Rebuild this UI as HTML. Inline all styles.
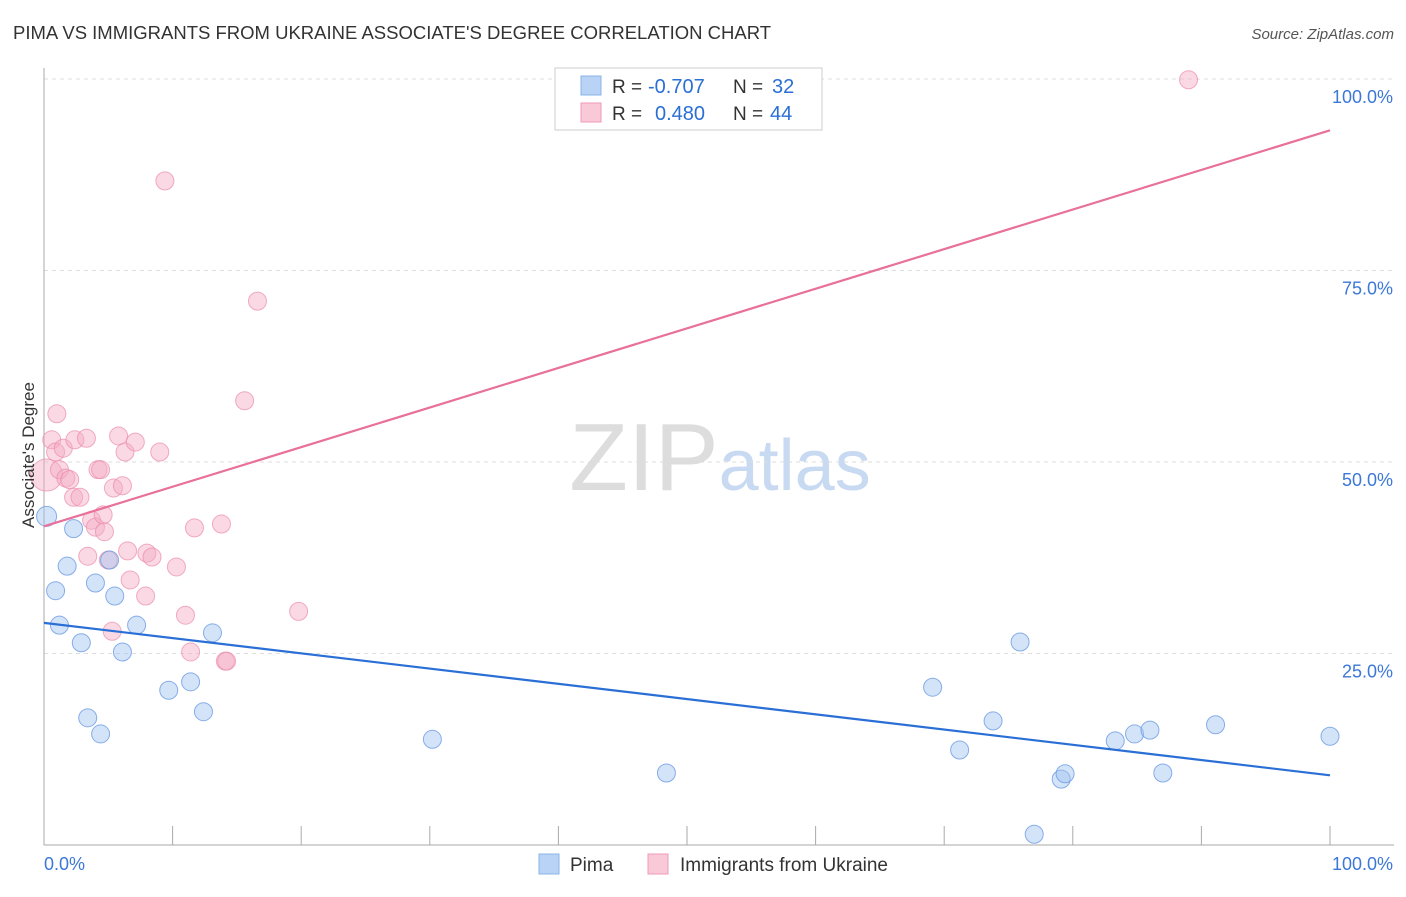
<!DOCTYPE html>
<html><head><meta charset="utf-8">
<style>
body{margin:0;background:#fff;font-family:"Liberation Sans",sans-serif;}
svg text{font-family:"Liberation Sans",sans-serif;}
</style></head>
<body>
<svg id="chart" width="1406" height="892" xmlns="http://www.w3.org/2000/svg">
<text x="13" y="39" font-size="18.5" fill="#333">PIMA VS IMMIGRANTS FROM UKRAINE ASSOCIATE'S DEGREE CORRELATION CHART</text>
<text x="1394" y="39" font-size="15" fill="#555" text-anchor="end" font-style="italic">Source: ZipAtlas.com</text>
<text x="720" y="490" font-size="96" text-anchor="middle" fill="#ddd" font-family="Liberation Serif">ZIP<tspan fill="#c8d9f2" font-family="Liberation Sans" font-size="72">atlas</tspan></text>
<g id="grid"></g>
<g id="axes"></g>
<g id="points"></g>
<g id="lines"></g>
<text transform="translate(34,455) rotate(-90)" font-size="17" fill="#333" text-anchor="middle">Associate's Degree</text>
<g>
<rect x="555" y="68" width="267" height="62" fill="#fff" stroke="#ccc"/>
<rect x="581" y="76" width="20" height="19" fill="#b8d3f5" stroke="#8ab4e8"/>
<rect x="581" y="103" width="20" height="19" fill="#f9c9d8" stroke="#f09ab5"/>
<text x="612" y="93" font-size="19" fill="#333">R =</text>
<text x="648" y="93" font-size="20" fill="#2a6fd6">-0.707</text>
<text x="733" y="93" font-size="19" fill="#333">N =</text>
<text x="772" y="93" font-size="20" fill="#2a6fd6">32</text>
<text x="612" y="120" font-size="19" fill="#333">R =</text>
<text x="655" y="120" font-size="20" fill="#2a6fd6">0.480</text>
<text x="733" y="120" font-size="19" fill="#333">N =</text>
<text x="770" y="120" font-size="20" fill="#2a6fd6">44</text>
</g>
<g>
<rect x="539" y="854" width="20" height="20" fill="#b8d3f5" stroke="#8ab4e8"/>
<text x="570" y="871" font-size="19" fill="#333">Pima</text>
<rect x="648" y="854" width="20" height="20" fill="#f9c9d8" stroke="#f09ab5"/>
<text x="680" y="871" font-size="19" fill="#333">Immigrants from Ukraine</text>
</g>
</svg>
<script>
const pimaX=[0.2,0.9,1.2,1.8,2.3,2.9,3.4,4.0,4.4,5.1,5.5,6.1,7.2,9.7,11.4,12.4,13.1,30.2,48.4,69.1,71.2,73.8,75.9,77.0,79.1,79.4,83.3,84.8,86.0,87.0,91.1,100];
const pimaY=[42.9,33.2,28.7,36.4,41.3,26.4,16.6,34.2,14.5,37.2,32.5,25.2,28.7,20.2,21.3,17.4,27.7,13.8,9.4,20.6,12.4,16.2,26.5,1.4,8.6,9.3,13.6,14.5,15.0,9.4,15.7,14.2];
const ukrX=[0.2,0.6,1.0,0.9,1.5,1.2,1.7,2.0,2.3,2.4,2.8,3.3,3.4,3.7,4.0,4.2,4.6,4.7,5.3,5.4,5.8,6.1,6.3,6.5,6.7,7.1,7.9,8.0,8.4,9.0,9.4,10.3,11.0,11.4,11.7,13.8,14.1,14.2,15.6,16.6,19.8,89.0,5.0,4.4];
const ukrY=[48.3,52.9,56.3,51.3,51.8,49.0,47.9,47.7,45.4,52.9,45.4,53.1,37.7,42.4,41.5,49.0,43.1,40.9,27.9,46.6,53.4,46.9,51.3,38.4,34.6,52.6,32.5,38.1,37.6,51.3,86.7,36.3,30.0,25.2,41.4,41.9,24.0,24.0,58.0,71.0,30.5,99.9,37.2,49.0];
const pimaTrend=[29.0,9.1];
const ukrTrend=[41.6,93.3];
const yTicks=[25,50,75,100];
const yTickLabels=["25.0%","50.0%","75.0%","100.0%"];
const xTicks=[0,10,20,30,40,50,60,70,80,90,100];

const NS="http://www.w3.org/2000/svg";
const X=v=>44+v*12.86, Y=v=>845-v*7.66;
function mk(parent,tag,attrs){const e=document.createElementNS(NS,tag);for(const k in attrs)e.setAttribute(k,attrs[k]);document.getElementById(parent).appendChild(e);return e;}
yTicks.forEach((t,i)=>{
 const l=mk('grid','line',{x1:44,x2:1394,y1:Y(t),y2:Y(t),stroke:'#ddd','stroke-dasharray':'4,4'});
 
 
 const tx=mk('axes','text',{x:1393,y:Y(t)+24,'font-size':18,fill:'#3b78d8','text-anchor':'end'});
 tx.textContent=yTickLabels[i];
 
 
});
const ax=mk('axes','line',{x1:44,x2:44,y1:68,y2:845,stroke:'#aaa'});


const bx=mk('axes','line',{x1:44,x2:1394,y1:845,y2:845,stroke:'#aaa'});


xTicks.forEach(t=>{
 const l=mk('axes','line',{x1:X(t),x2:X(t),y1:826,y2:845,stroke:'#aaa'});
 
 
});
const x0=mk('axes','text',{x:44,y:870,'font-size':18,fill:'#3b78d8'});x0.textContent='0.0%';


const x1=mk('axes','text',{x:1393,y:870,'font-size':18,fill:'#3b78d8','text-anchor':'end'});x1.textContent='100.0%';


ukrX.forEach((v,i)=>{
 const c=mk('points','circle',{cx:X(v),cy:Y(ukrY[i]),r:i===0?16:9,fill:'rgba(245,170,195,0.45)',stroke:'rgba(235,140,170,0.7)','stroke-width':1});
 
 
});
pimaX.forEach((v,i)=>{
 const c=mk('points','circle',{cx:X(v),cy:Y(pimaY[i]),r:i===0?10:9,fill:'rgba(160,195,240,0.45)',stroke:'rgba(100,150,225,0.75)','stroke-width':1});
 
 
});
const pl=mk('lines','line',{x1:X(0),y1:Y(ukrTrend[0]),x2:X(100),y2:Y(ukrTrend[1]),stroke:'#e8709a','stroke-width':2.2});


const bl=mk('lines','line',{x1:X(0),y1:Y(pimaTrend[0]),x2:X(100),y2:Y(pimaTrend[1]),stroke:'#2a6fd6','stroke-width':2.2});


</script>
</body></html>
